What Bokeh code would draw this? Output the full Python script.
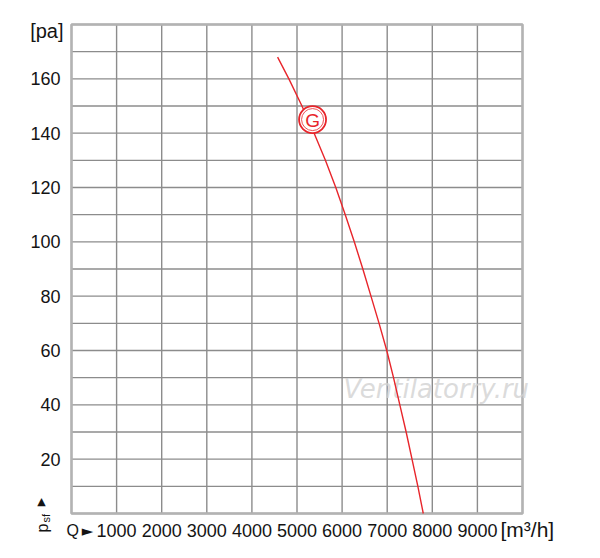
import math
from bokeh.plotting import figure
from bokeh.models import Range1d
from bokeh.embed import file_html
from bokeh.resources import INLINE
from bokeh.core.properties import value

# ---- data ----
flow_q = [4570, 4820, 5110, 5380, 5630, 5860, 6070, 6270, 6460, 6640,
          6820, 6990, 7140, 7280, 7420, 7550, 7680, 7800]
pressure_p = [168, 160, 150, 140, 130, 120, 110, 100, 90, 80,
              70, 60, 50, 40, 30, 20, 10, 0]
curve_name = ["G"]
curve_mark_q = [5345]
curve_mark_p = [145]
x_tick_values = [1000, 2000, 3000, 4000, 5000, 6000, 7000, 8000, 9000]
y_tick_values = [20, 40, 60, 80, 100, 120, 140, 160]
x_grid_values = list(range(0, 10001, 1000))
y_grid_values = list(range(0, 181, 10))
x_max = 10000
y_max = 180
x_unit = ["[m³/h]"]
y_unit = ["[pa]"]
x_symbol = ["Q"]
x_arrow = ["►"]
y_symbol_main = ["p"]
y_symbol_sub = ["sf"]
y_arrow = ["▲"]
watermark = ["Ventilatorry.ru"]
watermark_q = [6031]
watermark_p = [46]

FONT = "Liberation Sans"
TXT = "#141414"
RED = "#e8252b"
GRID = "#8c8c8c"

# ---- layout (pixels) ----
W, H = 600, 558
FRAME_L, FRAME_R = 71, 522      # x pixel of Q=0 and Q=x_max
FRAME_T, FRAME_B = 24, 513      # y pixel of p=y_max and p=0
kx = (FRAME_R - FRAME_L) / x_max
ky = (FRAME_B - FRAME_T) / y_max
x_range = Range1d(-FRAME_L / kx, (W - FRAME_L) / kx)
y_range = Range1d(-(H - FRAME_B) / ky, FRAME_B / ky)

p = figure(width=W, height=H, x_range=x_range, y_range=y_range,
           output_backend="svg", toolbar_location=None,
           x_axis_location=None, y_axis_location=None,
           min_border=0)
p.outline_line_color = None
p.background_fill_color = "white"
p.border_fill_color = "white"
p.grid.visible = False

# grid (drawn from the grid value lists)
p.segment(x0=x_grid_values, x1=x_grid_values,
          y0=[0] * len(x_grid_values), y1=[y_max] * len(x_grid_values),
          line_color=GRID, line_width=1.4)
p.segment(x0=[0] * len(y_grid_values), x1=[x_max] * len(y_grid_values),
          y0=y_grid_values, y1=y_grid_values,
          line_color=GRID, line_width=1.4)

# plot border
p.quad(left=[0], right=[x_max], bottom=[0], top=[y_max], fill_color=None,
       line_color="#b3b3b3", line_width=2.5)

# tick labels
p.text(x=[0] * len(y_tick_values), y=y_tick_values,
       text=[str(v) for v in y_tick_values], x_offset=-11,
       text_align="right", text_baseline="middle", text_color=TXT,
       text_font=value(FONT), text_font_size="18px")
p.text(x=x_tick_values, y=[0] * len(x_tick_values),
       text=[str(v) for v in x_tick_values], y_offset=17,
       text_align="center", text_baseline="middle", text_color=TXT,
       text_font=value(FONT), text_font_size="18px")

# unit labels
p.text(x=[0], y=[y_max], text=y_unit, x_offset=-8, y_offset=6,
       text_align="right", text_baseline="middle", text_color=TXT,
       text_font=value(FONT), text_font_size="20px")
p.text(x=[x_max], y=[0], text=x_unit, x_offset=-22, y_offset=16,
       text_align="left", text_baseline="middle", text_color=TXT,
       text_font=value(FONT), text_font_size="21px")
p.text(x=[0], y=[0], text=x_symbol, x_offset=-5, y_offset=17,
       text_align="left", text_baseline="middle", text_color=TXT,
       text_font=value(FONT), text_font_size="16px")
p.text(x=[0], y=[0], text=x_arrow, x_offset=16, y_offset=17,
       text_align="center", text_baseline="middle", text_color=TXT,
       text_font=value("DejaVu Sans"), text_font_size="15px")
p.text(x=[0], y=[0], text=y_symbol_main, x_offset=-29, y_offset=19,
       angle=math.pi / 2, text_align="left", text_baseline="middle",
       text_color=TXT, text_font=value(FONT), text_font_size="16px")
p.text(x=[0], y=[0], text=y_symbol_sub, x_offset=-26, y_offset=9,
       angle=math.pi / 2, text_align="left", text_baseline="middle",
       text_color=TXT, text_font=value(FONT), text_font_size="11px")
p.text(x=[0], y=[0], text=y_arrow, x_offset=-30, y_offset=-12,
       text_align="center", text_baseline="middle", text_color=TXT,
       text_font=value("DejaVu Sans"), text_font_size="11px")

# watermark
p.text(x=watermark_q, y=watermark_p, text=watermark,
       text_align="left", text_baseline="alphabetic",
       text_color="#d2d2d2", text_alpha=0.8,
       text_font=value("DejaVu Sans"), text_font_style="italic",
       text_font_size="26px")

# curve
p.line(flow_q, pressure_p, line_color=RED, line_width=1.4)
p.scatter(curve_mark_q, curve_mark_p, marker="circle", size=27,
          fill_color="white", line_color=RED, line_width=1.8)
p.scatter(curve_mark_q, curve_mark_p, marker="circle", size=22,
          fill_color="white", line_color=RED, line_width=0.8)
p.text(curve_mark_q, curve_mark_p, text=curve_name, text_color=RED,
       text_font=value(FONT), text_font_size="19px",
       text_align="center", text_baseline="middle", y_offset=1)

open("out.html", "w").write(file_html(p, INLINE))
